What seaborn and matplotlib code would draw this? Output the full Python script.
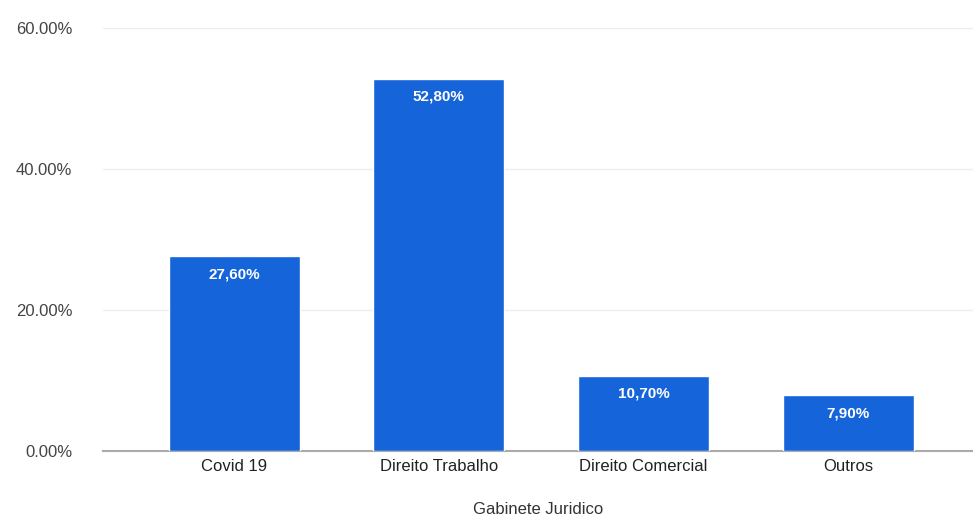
import matplotlib
matplotlib.use("Agg")
import matplotlib.pyplot as plt
import seaborn as sns
import pandas as pd

categories = ["Covid 19", "Direito Trabalho", "Direito Comercial", "Outros"]
values = [27.6, 52.8, 10.7, 7.9]
value_labels = ["27,60%", "52,80%", "10,70%", "7,90%"]
y_ticks = [0, 20, 40, 60]
y_tick_labels = ["0.00%", "20.00%", "40.00%", "60.00%"]
x_title = "Gabinete Juridico"

sns.set_theme(style="white")
plt.rcParams["font.family"] = ["Liberation Sans", "DejaVu Sans"]

df = pd.DataFrame({"categoria": categories, "valor": values})

fig = plt.figure(figsize=(9.73, 5.21), dpi=100)
ax = fig.add_axes([103 / 973, 70 / 521, 870 / 973, 423 / 521])

sns.barplot(data=df, x="categoria", y="valor", color="#1664D9",
            width=0.64, saturation=1, ax=ax, zorder=3)

ax.set_ylim(0, 60)
ax.set_xlim(-0.64, 3.61)
ax.set_yticks(y_ticks)
ax.set_yticklabels(y_tick_labels, fontsize=12, color="#444444")
ax.tick_params(axis="y", length=0, pad=22)
ax.tick_params(axis="x", length=0, pad=6, labelsize=12, labelcolor="#222222")
ax.yaxis.grid(True, color="#eeeeee", linewidth=1, zorder=0)

for s in ["top", "right", "left"]:
    ax.spines[s].set_visible(False)
ax.spines["bottom"].set_color("#aaaaaa")
ax.spines["bottom"].set_linewidth(1.5)

ax.set_ylabel("")
ax.set_xlabel(x_title, fontsize=12, color="#333333", labelpad=20)

for bar, lab in zip(ax.patches, value_labels):
    ax.annotate(lab, (bar.get_x() + bar.get_width() / 2, bar.get_height()),
                xytext=(0, -8), textcoords="offset points",
                ha="center", va="top", color="white",
                fontsize=11, fontweight="bold", zorder=4)

fig.savefig("out.png", dpi=100)
